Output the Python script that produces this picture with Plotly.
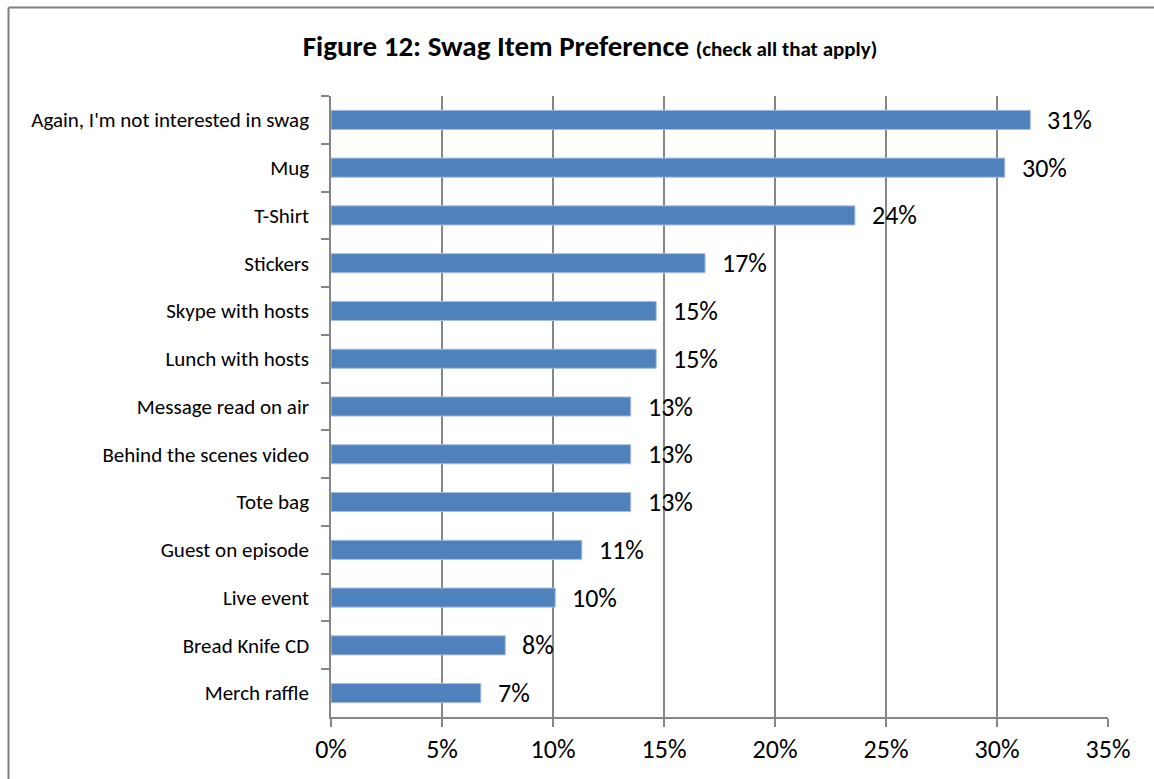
import plotly.graph_objects as go

categories = [
    "Again, I'm not interested in swag",
    "Mug",
    "T-Shirt",
    "Stickers",
    "Skype with hosts",
    "Lunch with hosts",
    "Message read on air",
    "Behind the scenes video",
    "Tote bag",
    "Guest on episode",
    "Live event",
    "Bread Knife CD",
    "Merch raffle",
]
values = [31.5, 30.35, 23.6, 16.85, 14.65, 14.65, 13.5, 13.5, 13.5, 11.3, 10.1, 7.85, 6.75]
value_labels = ["31%", "30%", "24%", "17%", "15%", "15%", "13%", "13%", "13%", "11%", "10%", "8%", "7%"]
x_ticks = [0, 5, 10, 15, 20, 25, 30, 35]
x_tick_labels = ["0%", "5%", "10%", "15%", "20%", "25%", "30%", "35%"]

FONT = "Calibri, Carlito, Lato, sans-serif"
GRID = "#868686"

fig = go.Figure()
fig.add_trace(go.Bar(
    x=values, y=categories, orientation="h",
    marker=dict(color="#4F81BD", line=dict(color="#A7BEE0", width=1)),
    hoverinfo="skip",
))

for v, c, t in zip(values, categories, value_labels):
    fig.add_annotation(x=v, y=c, text=t, showarrow=False, xanchor="left",
                       xshift=15, font=dict(size=26, color="#000000", family=FONT))

W, H = 1154, 779
L, R, T, B = 331, 46, 96, 62
pw, ph = W - L - R, H - T - B

def px_x(p):
    return (p - L) / pw

def px_y(p):
    return (H - B - p) / ph

line = dict(color="#7f7f7f", width=2)
fig.add_shape(type="line", xref="paper", yref="paper",
              x0=px_x(8.5), x1=px_x(8.5), y0=px_y(800), y1=px_y(7.5), line=line)
fig.add_shape(type="line", xref="paper", yref="paper",
              x0=px_x(8.5), x1=px_x(1200), y0=px_y(7.5), y1=px_y(7.5), line=line)

fig.update_layout(
    width=W, height=H,
    margin=dict(l=L, r=R, t=T, b=B),
    paper_bgcolor="white", plot_bgcolor="white",
    bargap=0.6,
    showlegend=False,
    font=dict(family=FONT, color="#000000"),
    title=dict(
        text="<b>Figure 12: Swag Item Preference</b> <b><span style='font-size:21px'>(check all that apply)</span></b>",
        x=590 / W, xanchor="center", y=1 - 46 / H, yanchor="middle",
        font=dict(size=29, family=FONT, color="#000000"),
    ),
    xaxis=dict(
        range=[0, 35], tickvals=x_ticks, ticktext=x_tick_labels,
        showgrid=True, gridcolor=GRID, gridwidth=1.5,
        showline=True, linecolor=GRID, linewidth=1.5,
        ticks="outside", ticklen=8, tickcolor=GRID, tickwidth=1.5,
        tickfont=dict(size=26, family=FONT, color="#000000"),
        zeroline=False, fixedrange=True,
    ),
    yaxis=dict(
        categoryorder="array", categoryarray=categories, autorange="reversed",
        showgrid=False, showline=True, linecolor=GRID, linewidth=1.5,
        ticks="outside", ticklen=8, tickcolor=GRID, tickwidth=1.5,
        tickson="boundaries", ticklabelstandoff=16,
        tickfont=dict(size=21, family=FONT, color="#000000"),
        fixedrange=True,
    ),
)

fig.write_html("out.html")
